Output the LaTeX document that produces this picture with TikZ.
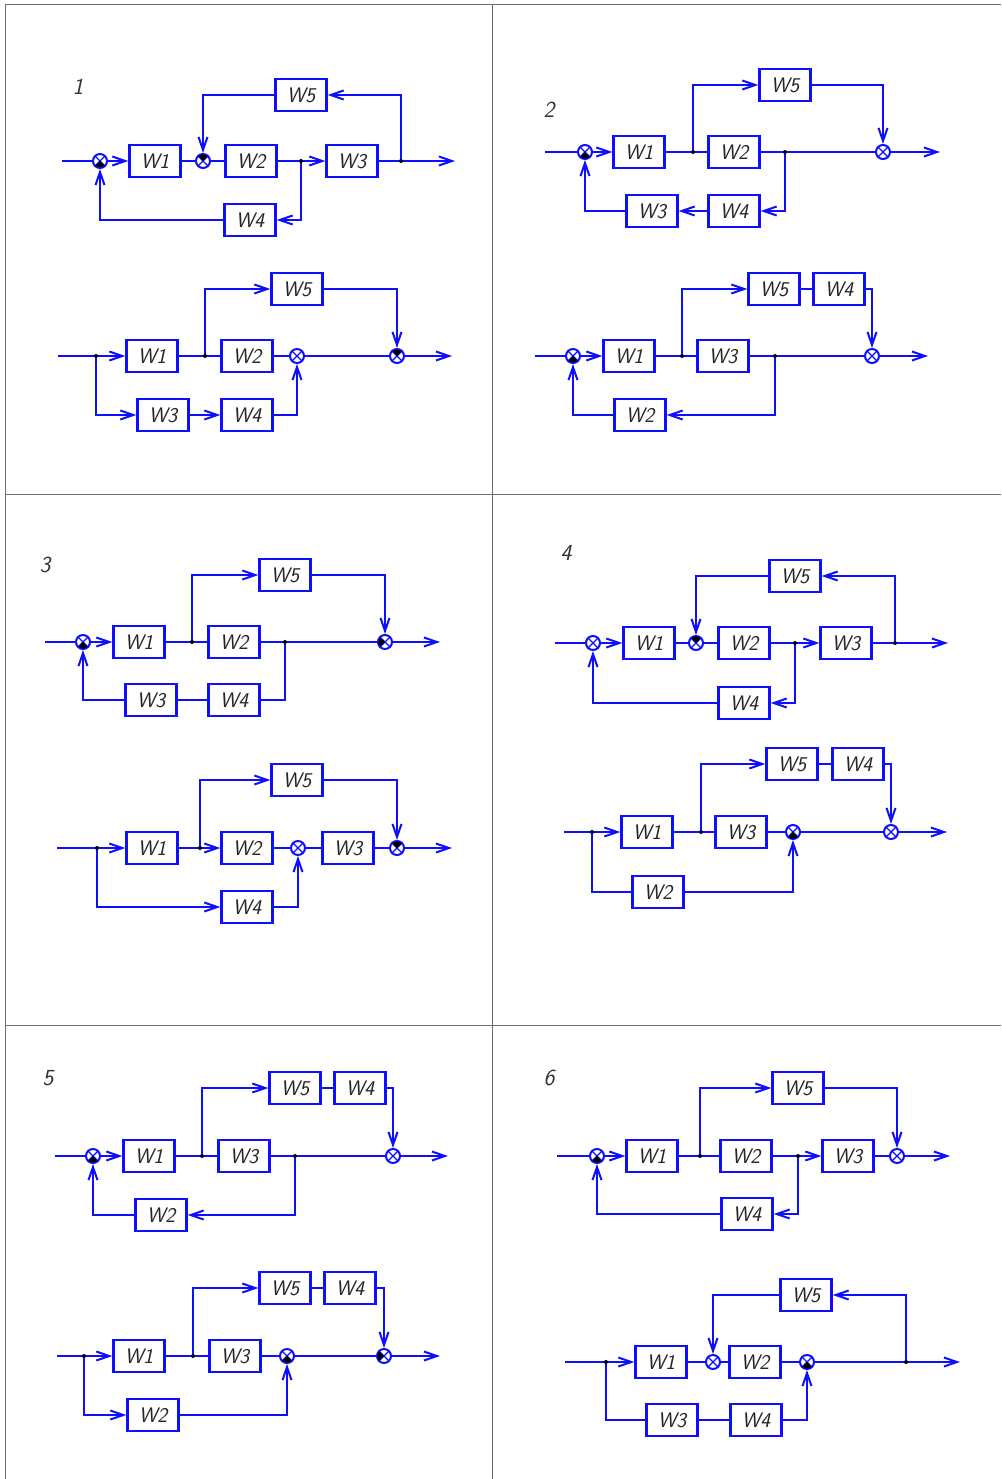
\documentclass[tikz,border=0pt]{standalone}
\usepackage{fontspec}
\usetikzlibrary{arrows.meta}
\definecolor{wire}{RGB}{15,15,255}
\definecolor{gridc}{RGB}{110,110,110}
\newcommand\blkfont{\sffamily\itshape\fontsize{21}{23}\selectfont}
\newcommand\negq[2]{\fill[black] (#1.center) -- ++(#2:6.5pt) arc[start angle=#2,delta angle=90,radius=6.5pt] -- cycle;}
\tikzset{
  blk/.style={draw=wire, line width=2.3pt, minimum width=51pt, minimum height=32pt, inner sep=0pt, font=\blkfont, text=black!85},
  sumj/.style={circle, draw=wire, line width=2pt, minimum size=14pt, inner sep=0pt,
    path picture={\draw[wire,line width=1.3pt] (path picture bounding box.north west)--(path picture bounding box.south east) (path picture bounding box.north east)--(path picture bounding box.south west);}},
  wl/.style={draw=wire, line width=2.3pt},
  arr/.style={wl, -{Straight Barb[length=13pt,width=9pt,line width=2pt]}},
  jdot/.style={circle, fill=black, inner sep=0pt, minimum size=4pt},
  plabel/.style={font=\sffamily\itshape\fontsize{23}{25}\selectfont, text=black!80},
  gridl/.style={draw=gridc, line width=1pt}
}
\begin{document}
\begin{tikzpicture}[x=1pt,y=1pt]
\useasboundingbox (0,0) rectangle (1001,-1479);
\fill[white] (0,0) rectangle (1001,-1479);
% frame
\draw[gridl] (5,-5)--(1001,-5);
\draw[gridl] (5,-5)--(5,-1479);
\draw[gridl] (492,-5)--(492,-1479);
\draw[gridl] (5,-494)--(1001,-494);
\draw[gridl] (5,-1025)--(1001,-1025);

% ================= 1a
\node[plabel] (l1) at (78,-87) {1};
\coordinate (a-in) at (62,-161);
\node[sumj] (a-s1) at (100,-161) {};
\node[blk] (a-w1) at (155,-161) {W1};
\node[sumj] (a-s2) at (203,-161) {};
\node[blk] (a-w2) at (251,-161) {W2};
\coordinate (a-b1) at (301,-161);
\node[blk] (a-w3) at (352,-161) {W3};
\coordinate (a-b2) at (401,-161);
\coordinate (a-out) at (455,-161);
\node[blk] (a-w5) at (301,-95) {W5};
\node[blk] (a-w4) at (250,-220) {W4};
\draw[wl] (a-in) -- (a-s1);
\draw[arr] (a-s1) -- (a-w1);
\draw[wl] (a-w1) -- (a-s2);
\draw[wl] (a-s2) -- (a-w2);
\draw[wl] (a-w2) -- (a-b1);
\draw[arr] (a-b1) -- (a-w3);
\draw[wl] (a-w3) -- (a-b2);
\draw[arr] (a-b2) -- (a-out);
\draw[arr] (a-b2) |- (a-w5);
\draw[arr] (a-w5) -| (a-s2);
\draw[arr] (a-b1) |- (a-w4);
\draw[arr] (a-w4) -| (a-s1);
\negq{a-s1}{225}\negq{a-s2}{45}
\node[jdot] at (a-b1) {};\node[jdot] at (a-b2) {};

% ================= 1b
\coordinate (b-in) at (58,-356);
\coordinate (b-b0) at (96,-356);
\node[blk] (b-w1) at (152,-356) {W1};
\coordinate (b-b1) at (205,-356);
\node[blk] (b-w2) at (247,-356) {W2};
\node[sumj] (b-s1) at (297,-356) {};
\node[sumj] (b-s2) at (397,-356) {};
\coordinate (b-out) at (452,-356);
\node[blk] (b-w5) at (297,-289) {W5};
\node[blk] (b-w3) at (163,-415) {W3};
\node[blk] (b-w4) at (247,-415) {W4};
\draw[wl] (b-in) -- (b-b0);
\draw[arr] (b-b0) -- (b-w1);
\draw[wl] (b-w1) -- (b-b1);
\draw[wl] (b-b1) -- (b-w2);
\draw[wl] (b-w2) -- (b-s1);
\draw[wl] (b-s1) -- (b-s2);
\draw[arr] (b-s2) -- (b-out);
\draw[arr] (b-b1) |- (b-w5);
\draw[arr] (b-w5) -| (b-s2);
\draw[arr] (b-b0) |- (b-w3);
\draw[arr] (b-w3) -- (b-w4);
\draw[arr] (b-w4) -| (b-s1);
\negq{b-s2}{45}
\node[jdot] at (b-b0) {};\node[jdot] at (b-b1) {};

% ================= 2a
\node[plabel] (l2) at (549,-110) {2};
\coordinate (c-in) at (545,-152);
\node[sumj] (c-s1) at (585,-152) {};
\node[blk] (c-w1) at (639,-152) {W1};
\coordinate (c-b1) at (693,-152);
\node[blk] (c-w2) at (734,-152) {W2};
\coordinate (c-b2) at (785,-152);
\node[sumj] (c-s2) at (883,-152) {};
\coordinate (c-out) at (940,-152);
\node[blk] (c-w5) at (785,-85) {W5};
\node[blk] (c-w4) at (734,-211) {W4};
\node[blk] (c-w3) at (652,-211) {W3};
\draw[wl] (c-in) -- (c-s1);
\draw[arr] (c-s1) -- (c-w1);
\draw[wl] (c-w1) -- (c-b1);
\draw[wl] (c-b1) -- (c-w2);
\draw[wl] (c-w2) -- (c-b2);
\draw[wl] (c-b2) -- (c-s2);
\draw[arr] (c-s2) -- (c-out);
\draw[arr] (c-b1) |- (c-w5);
\draw[arr] (c-w5) -| (c-s2);
\draw[arr] (c-b2) |- (c-w4);
\draw[arr] (c-w4) -- (c-w3);
\draw[arr] (c-w3) -| (c-s1);
\negq{c-s1}{225}
\node[jdot] at (c-b1) {};\node[jdot] at (c-b2) {};

% ================= 2b
\coordinate (d-in) at (535,-356);
\node[sumj] (d-s1) at (573,-356) {};
\node[blk] (d-w1) at (629,-356) {W1};
\coordinate (d-b1) at (682,-356);
\node[blk] (d-w3) at (723,-356) {W3};
\coordinate (d-b2) at (775,-356);
\node[sumj] (d-s2) at (872,-356) {};
\coordinate (d-out) at (928,-356);
\node[blk] (d-w5) at (774,-289) {W5};
\node[blk] (d-w4) at (839,-289) {W4};
\node[blk] (d-w2) at (640,-415) {W2};
\draw[wl] (d-in) -- (d-s1);
\draw[arr] (d-s1) -- (d-w1);
\draw[wl] (d-w1) -- (d-b1);
\draw[wl] (d-b1) -- (d-w3);
\draw[wl] (d-w3) -- (d-b2);
\draw[wl] (d-b2) -- (d-s2);
\draw[arr] (d-s2) -- (d-out);
\draw[arr] (d-b1) |- (d-w5);
\draw[wl] (d-w5) -- (d-w4);
\draw[arr] (d-w4) -| (d-s2);
\draw[arr] (d-b2) |- (d-w2);
\draw[arr] (d-w2) -| (d-s1);
\negq{d-s1}{225}
\node[jdot] at (d-b1) {};\node[jdot] at (d-b2) {};

% ================= 3a
\node[plabel] (l3) at (45,-565) {3};
\coordinate (e-in) at (45,-642);
\node[sumj] (e-s1) at (83,-642) {};
\node[blk] (e-w1) at (139,-642) {W1};
\coordinate (e-b1) at (192,-642);
\node[blk] (e-w2) at (234,-642) {W2};
\coordinate (e-b2) at (285,-642);
\node[sumj] (e-s2) at (385,-642) {};
\coordinate (e-out) at (440,-642);
\node[blk] (e-w5) at (285,-575) {W5};
\node[blk] (e-w4) at (234,-700) {W4};
\node[blk] (e-w3) at (151,-700) {W3};
\draw[wl] (e-in) -- (e-s1);
\draw[arr] (e-s1) -- (e-w1);
\draw[wl] (e-w1) -- (e-b1);
\draw[wl] (e-b1) -- (e-w2);
\draw[wl] (e-w2) -- (e-b2);
\draw[wl] (e-b2) -- (e-s2);
\draw[arr] (e-s2) -- (e-out);
\draw[arr] (e-b1) |- (e-w5);
\draw[arr] (e-w5) -| (e-s2);
\draw[wl] (e-b2) |- (e-w4);
\draw[wl] (e-w4) -- (e-w3);
\draw[arr] (e-w3) -| (e-s1);
\negq{e-s1}{225}\negq{e-s2}{135}
\node[jdot] at (e-b1) {};\node[jdot] at (e-b2) {};

% ================= 3b
\coordinate (f-in) at (57,-848);
\coordinate (f-b0) at (97,-848);
\node[blk] (f-w1) at (152,-848) {W1};
\coordinate (f-b1) at (200,-848);
\node[blk] (f-w2) at (247,-848) {W2};
\node[sumj] (f-s1) at (298,-848) {};
\node[blk] (f-w3) at (348,-848) {W3};
\node[sumj] (f-s2) at (397,-848) {};
\coordinate (f-out) at (452,-848);
\node[blk] (f-w5) at (297,-780) {W5};
\node[blk] (f-w4) at (247,-907) {W4};
\draw[wl] (f-in) -- (f-b0);
\draw[arr] (f-b0) -- (f-w1);
\draw[wl] (f-w1) -- (f-b1);
\draw[arr] (f-b1) -- (f-w2);
\draw[wl] (f-w2) -- (f-s1);
\draw[wl] (f-s1) -- (f-w3);
\draw[wl] (f-w3) -- (f-s2);
\draw[arr] (f-s2) -- (f-out);
\draw[arr] (f-b1) |- (f-w5);
\draw[arr] (f-w5) -| (f-s2);
\draw[arr] (f-b0) |- (f-w4);
\draw[arr] (f-w4) -| (f-s1);
\negq{f-s2}{45}
\node[jdot] at (f-b0) {};\node[jdot] at (f-b1) {};

% ================= 4a
\node[plabel] (l4) at (566,-553) {4};
\coordinate (g-in) at (555,-643);
\node[sumj] (g-s1) at (593,-643) {};
\node[blk] (g-w1) at (649,-643) {W1};
\node[sumj] (g-s2) at (696,-643) {};
\node[blk] (g-w2) at (744,-643) {W2};
\coordinate (g-b1) at (795,-643);
\node[blk] (g-w3) at (846,-643) {W3};
\coordinate (g-b2) at (895,-643);
\coordinate (g-out) at (948,-643);
\node[blk] (g-w5) at (795,-576) {W5};
\node[blk] (g-w4) at (744,-703) {W4};
\draw[wl] (g-in) -- (g-s1);
\draw[arr] (g-s1) -- (g-w1);
\draw[wl] (g-w1) -- (g-s2);
\draw[wl] (g-s2) -- (g-w2);
\draw[wl] (g-w2) -- (g-b1);
\draw[arr] (g-b1) -- (g-w3);
\draw[wl] (g-w3) -- (g-b2);
\draw[arr] (g-b2) -- (g-out);
\draw[arr] (g-b2) |- (g-w5);
\draw[arr] (g-w5) -| (g-s2);
\draw[arr] (g-b1) |- (g-w4);
\draw[arr] (g-w4) -| (g-s1);
\negq{g-s2}{45}
\node[jdot] at (g-b1) {};\node[jdot] at (g-b2) {};

% ================= 4b
\coordinate (h-in) at (564,-832);
\coordinate (h-b0) at (592,-832);
\node[blk] (h-w1) at (647,-832) {W1};
\coordinate (h-b1) at (701,-832);
\node[blk] (h-w3) at (741,-832) {W3};
\node[sumj] (h-s1) at (793,-832) {};
\node[sumj] (h-s2) at (891,-832) {};
\coordinate (h-out) at (947,-832);
\node[blk] (h-w5) at (792,-764) {W5};
\node[blk] (h-w4) at (858,-764) {W4};
\node[blk] (h-w2) at (658,-892) {W2};
\draw[wl] (h-in) -- (h-b0);
\draw[arr] (h-b0) -- (h-w1);
\draw[wl] (h-w1) -- (h-b1);
\draw[wl] (h-b1) -- (h-w3);
\draw[wl] (h-w3) -- (h-s1);
\draw[wl] (h-s1) -- (h-s2);
\draw[arr] (h-s2) -- (h-out);
\draw[arr] (h-b1) |- (h-w5);
\draw[wl] (h-w5) -- (h-w4);
\draw[arr] (h-w4) -| (h-s2);
\draw[wl] (h-b0) |- (h-w2);
\draw[arr] (h-w2) -| (h-s1);
\negq{h-s1}{225}
\node[jdot] at (h-b0) {};\node[jdot] at (h-b1) {};

% ================= 5a
\node[plabel] (l5) at (48,-1078) {5};
\coordinate (i-in) at (55,-1156);
\node[sumj] (i-s1) at (93,-1156) {};
\node[blk] (i-w1) at (149,-1156) {W1};
\coordinate (i-b1) at (202,-1156);
\node[blk] (i-w3) at (244,-1156) {W3};
\coordinate (i-b2) at (295,-1156);
\node[sumj] (i-s2) at (393,-1156) {};
\coordinate (i-out) at (448,-1156);
\node[blk] (i-w5) at (295,-1088) {W5};
\node[blk] (i-w4) at (360,-1088) {W4};
\node[blk] (i-w2) at (161,-1215) {W2};
\draw[wl] (i-in) -- (i-s1);
\draw[arr] (i-s1) -- (i-w1);
\draw[wl] (i-w1) -- (i-b1);
\draw[wl] (i-b1) -- (i-w3);
\draw[wl] (i-w3) -- (i-b2);
\draw[wl] (i-b2) -- (i-s2);
\draw[arr] (i-s2) -- (i-out);
\draw[arr] (i-b1) |- (i-w5);
\draw[wl] (i-w5) -- (i-w4);
\draw[arr] (i-w4) -| (i-s2);
\draw[arr] (i-b2) |- (i-w2);
\draw[arr] (i-w2) -| (i-s1);
\negq{i-s1}{225}
\node[jdot] at (i-b1) {};\node[jdot] at (i-b2) {};

% ================= 5b
\coordinate (j-in) at (57,-1356);
\coordinate (j-b0) at (84,-1356);
\node[blk] (j-w1) at (139,-1356) {W1};
\coordinate (j-b1) at (193,-1356);
\node[blk] (j-w3) at (235,-1356) {W3};
\node[sumj] (j-s1) at (287,-1356) {};
\node[sumj] (j-s2) at (384,-1356) {};
\coordinate (j-out) at (440,-1356);
\node[blk] (j-w5) at (285,-1288) {W5};
\node[blk] (j-w4) at (350,-1288) {W4};
\node[blk] (j-w2) at (153,-1415) {W2};
\draw[wl] (j-in) -- (j-b0);
\draw[arr] (j-b0) -- (j-w1);
\draw[wl] (j-w1) -- (j-b1);
\draw[wl] (j-b1) -- (j-w3);
\draw[wl] (j-w3) -- (j-s1);
\draw[wl] (j-s1) -- (j-s2);
\draw[arr] (j-s2) -- (j-out);
\draw[arr] (j-b1) |- (j-w5);
\draw[wl] (j-w5) -- (j-w4);
\draw[arr] (j-w4) -| (j-s2);
\draw[arr] (j-b0) |- (j-w2);
\draw[arr] (j-w2) -| (j-s1);
\negq{j-s1}{225}\negq{j-s2}{135}
\node[jdot] at (j-b0) {};\node[jdot] at (j-b1) {};

% ================= 6a
\node[plabel] (l6) at (549,-1078) {6};
\coordinate (k-in) at (557,-1156);
\node[sumj] (k-s1) at (597,-1156) {};
\node[blk] (k-w1) at (652,-1156) {W1};
\coordinate (k-b1) at (700,-1156);
\node[blk] (k-w2) at (746,-1156) {W2};
\coordinate (k-b2) at (798,-1156);
\node[blk] (k-w3) at (848,-1156) {W3};
\node[sumj] (k-s2) at (897,-1156) {};
\coordinate (k-out) at (950,-1156);
\node[blk] (k-w5) at (798,-1088) {W5};
\node[blk] (k-w4) at (747,-1214) {W4};
\draw[wl] (k-in) -- (k-s1);
\draw[arr] (k-s1) -- (k-w1);
\draw[wl] (k-w1) -- (k-b1);
\draw[wl] (k-b1) -- (k-w2);
\draw[wl] (k-w2) -- (k-b2);
\draw[arr] (k-b2) -- (k-w3);
\draw[wl] (k-w3) -- (k-s2);
\draw[arr] (k-s2) -- (k-out);
\draw[arr] (k-b1) |- (k-w5);
\draw[arr] (k-w5) -| (k-s2);
\draw[arr] (k-b2) |- (k-w4);
\draw[arr] (k-w4) -| (k-s1);
\negq{k-s1}{225}
\node[jdot] at (k-b1) {};\node[jdot] at (k-b2) {};

% ================= 6b
\coordinate (m-in) at (565,-1362);
\coordinate (m-b0) at (606,-1362);
\node[blk] (m-w1) at (661,-1362) {W1};
\node[sumj] (m-s1) at (713,-1362) {};
\node[blk] (m-w2) at (755,-1362) {W2};
\node[sumj] (m-s2) at (807,-1362) {};
\coordinate (m-b1) at (906,-1362);
\coordinate (m-out) at (960,-1362);
\node[blk] (m-w5) at (806,-1295) {W5};
\node[blk] (m-w3) at (672,-1420) {W3};
\node[blk] (m-w4) at (756,-1420) {W4};
\draw[wl] (m-in) -- (m-b0);
\draw[arr] (m-b0) -- (m-w1);
\draw[wl] (m-w1) -- (m-s1);
\draw[wl] (m-s1) -- (m-w2);
\draw[wl] (m-w2) -- (m-s2);
\draw[wl] (m-s2) -- (m-b1);
\draw[arr] (m-b1) -- (m-out);
\draw[arr] (m-b1) |- (m-w5);
\draw[arr] (m-w5) -| (m-s1);
\draw[wl] (m-b0) |- (m-w3);
\draw[wl] (m-w3) -- (m-w4);
\draw[arr] (m-w4) -| (m-s2);
\negq{m-s2}{225}
\node[jdot] at (m-b0) {};\node[jdot] at (m-b1) {};
\end{tikzpicture}
\end{document}
